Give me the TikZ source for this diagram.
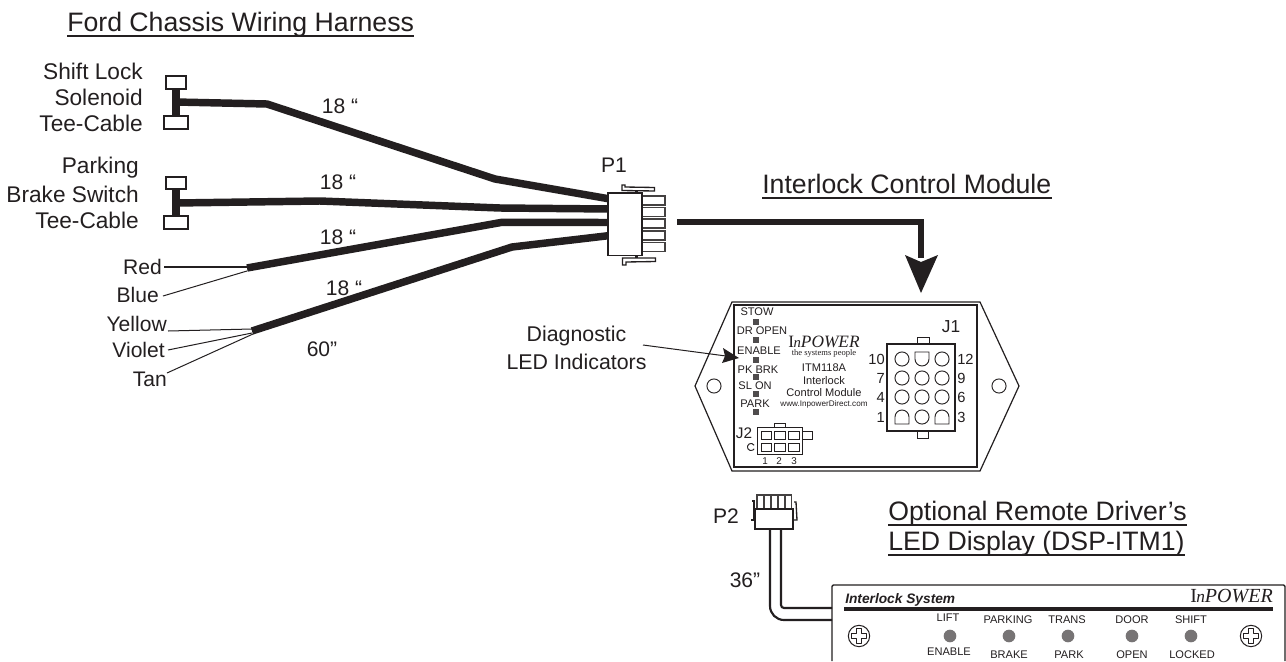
\documentclass[tikz,border=0pt]{standalone}
\usepackage{fontspec}
\setmainfont{Liberation Sans}
\newfontfamily\logofont{Liberation Serif}
\definecolor{ink}{HTML}{231F20}
\newcommand{\logotext}[2]{{\logofont\fontsize{#1}{#1}\selectfont I\kern-0.03em{\itshape\fontsize{#2}{#1}\selectfont n}{\itshape POWER}}}
\begin{document}
\begin{tikzpicture}[x=0.75pt,y=-0.75pt,line join=miter,
  lbl/.style={inner sep=0pt,text=ink,font=\fontsize{15.8}{18}\selectfont},
  big/.style={inner sep=0pt,text=ink,font=\fontsize{17}{19}\selectfont},
  ttl/.style={inner sep=0pt,text=ink,anchor=base west,font=\fontsize{20}{22}\selectfont},
  uline/.style={draw=ink,line width=1.1pt},
  mod/.style={inner sep=0pt,text=ink,font=\fontsize{8.3}{10}\selectfont},
  pan/.style={inner sep=0pt,text=ink,font=\fontsize{8.3}{10}\selectfont},
  num/.style={inner sep=0pt,text=ink,font=\fontsize{11}{13}\selectfont},
  cable/.style={draw=ink,line width=5.6pt,line join=round},
  wire/.style={draw=ink,line width=0.75pt},
  thin outline/.style={draw=ink,line width=0.9pt,fill=white},
  hair/.style={draw=ink,line width=0.7pt,fill=white},
  led/.style={fill=ink!80,draw=none,minimum size=3.8pt,inner sep=0pt},
  disc/.style={circle,fill=ink!62,draw=none,minimum size=9.5pt,inner sep=0pt},
  hole/.style={circle,draw=ink,line width=0.7pt,fill=white,minimum size=10.6pt,inner sep=0pt},
  screw/.style={circle,draw=ink,line width=0.75pt,fill=white,minimum size=16pt,inner sep=0pt}]
\useasboundingbox (0,0) rectangle (1286,661);
\fill[white] (0,0) rectangle (1286,661);

% titles
\node[ttl] (t1) at (67,31) {Ford Chassis Wiring Harness};
\node[ttl] (t2) at (762,193) {Interlock Control Module};
\node[ttl] (t3) at (888,520) {Optional Remote Driver’s};
\node[ttl] (t4) at (888,550) {LED Display (DSP-ITM1)};
\draw[uline] ([yshift=-3.6pt]t1.base west) -- ([yshift=-3.6pt]t1.base east);
\draw[uline] ([yshift=-3.6pt]t2.base west) -- ([yshift=-3.6pt]t2.base east);
\draw[uline] ([yshift=-3.6pt]t3.base west) -- ([yshift=-3.6pt]t3.base east);
\draw[uline] ([yshift=-3.6pt]t4.base west) -- ([yshift=-3.6pt]t4.base east);

% left labels
\node[big,anchor=east] (a1) at (143,71) {Shift Lock};
\node[big,anchor=east] (a2) at (143,97) {Solenoid};
\node[big,anchor=east] (a3) at (143,123) {Tee-Cable};
\node[big,anchor=east] (b1) at (139,168) {Parking};
\node[big,anchor=east] (b2) at (139,194) {Brake Switch};
\node[big,anchor=east] (b3) at (139,220) {Tee-Cable};
\node[lbl,anchor=east] (red) at (162,267) {Red};
\node[lbl,anchor=east] (blue) at (159,295) {Blue};
\node[lbl,anchor=east] (yellow) at (167,324) {Yellow};
\node[lbl,anchor=east] (violet) at (165,350) {Violet};
\node[lbl,anchor=east] (tan) at (167,379) {Tan};

\node[lbl] (l1) at (340,106) {18 “};
\node[lbl] (l2) at (338,182) {18 “};
\node[lbl] (l3) at (338,237) {18 “};
\node[lbl] (l4) at (344,288) {18 “};
\node[lbl] (l5) at (322,349) {60”};
\node[lbl] (p1) at (614,165) {P1};

% coordinates of cable ends
\coordinate (c1a) at (176,102);
\coordinate (c2a) at (176,203);
\coordinate (c3a) at (247,268);
\coordinate (c4a) at (252,331);
\coordinate (c1b) at (610,199);
\coordinate (c2b) at (610,209);
\coordinate (c3b) at (610,222.5);
\coordinate (c4b) at (610,235.5);

% cables
\draw[cable] (c1a) -- (267,104) -- (495,179) -- (c1b);
\draw[cable] (c2a) -- (320,201) -- (500,208) -- (c2b);
\draw[cable] (c3a) -- (502,222.3) -- (c3b);
\draw[cable] (c4a) -- (512,247) -- (c4b);

% tees
\draw[ink,line width=5.4pt] (176,88) -- (176,117);
\draw[ink,line width=5.4pt] (176,188) -- (176,217);
\draw[thin outline] (166,76) rectangle (186,89);
\draw[thin outline] (164,116) rectangle (188,129);
\draw[thin outline] (166,177) rectangle (186,189);
\draw[thin outline] (164,216) rectangle (188,229);

% loose wires
\coordinate (w1a) at (164,267); \coordinate (w1b) at (247,267);
\coordinate (w2a) at (163,296); \coordinate (w2b) at (247,271);
\coordinate (w3a) at (168,331); \coordinate (w3b) at (252,329);
\coordinate (w4a) at (168,350); \coordinate (w4b) at (252,333);
\coordinate (w5a) at (167,373); \coordinate (w5b) at (253,334);
\draw[wire,line width=1pt] (w1a) -- (w1b);
\draw[wire] (w2a) -- (w2b);
\draw[wire] (w3a) -- (w3b);
\draw[wire] (w4a) -- (w4b);
\draw[wire] (w5a) -- (w5b);

% P1
\draw[hair,line width=1pt] (622,190.5) -- (622,185) -- (625,185) -- (625,187) -- (654.5,187.5) -- (654.5,191) -- cycle;
\draw[ink,line width=1.6pt] (636.5,190) -- (636.5,193);
\draw[ink,line width=1.6pt] (636.5,255) -- (636.5,258);
\draw[hair,line width=1pt] (622.5,258) -- (655.5,258) -- (655.5,261.5) -- (626,262) -- (626,265) -- (622.5,265) -- cycle;
\foreach \y/\h in {196/205,207.5/216.5,219/228,231/240,242.5/251.5}
  \draw[draw=ink!85,line width=1.2pt,fill=white] (642,\y) rectangle (665,\h);
\draw[draw=ink,line width=1.3pt,fill=white] (608,193) rectangle (642,255.5);

% main arrow
\coordinate (arrowtip) at (921,293);
\draw[ink,line width=4.4pt] (677,222) -- (921,222) -- (921,258);
\fill[ink] (arrowtip) -- (905,255) -- (921,262) -- (938,255) -- cycle;

% module
\draw[draw=ink,line width=0.9pt,fill=white] (732,302) -- (980,302) -- (1019,386) -- (980,471) -- (732,471) -- (695,386) -- cycle;
\draw[draw=ink,line width=0.9pt] (734,305) rectangle (977,467);
\node[hole] (h1) at (714,386) {};
\node[hole] (h2) at (999,386) {};

\node[mod] (m1) at (757,312) {STOW};
\node[mod] (m2) at (762,331) {DR OPEN};
\node[mod] (m3) at (759,351) {ENABLE};
\node[mod] (m4) at (758,370) {PK BRK};
\node[mod] (m5) at (755,386) {SL ON};
\node[mod] (m6) at (755,404) {PARK};
\foreach \y [count=\i] in {322,340,360,377,394,412}
  \node[led] (led\i) at (756,\y) {};

\node[inner sep=0pt,text=ink] (logo1) at (824,342) {\logotext{13}{11}};
\node[inner sep=0pt,text=ink,font=\logofont\fontsize{6.4}{8}\selectfont] (tag) at (824,353.5) {the systems people};
\node[mod] (m7) at (824,368) {ITM118A};
\node[mod] (m8) at (824,381) {Interlock};
\node[mod] (m9) at (824,393) {Control Module};
\node[mod,font=\fontsize{6.1}{7}\selectfont] (m10) at (824,404) {www.InpowerDirect.com};

% J1
\draw[hair] (917,337) rectangle (929,344);
\draw[hair] (917,431) rectangle (928,438);
\draw[draw=ink,line width=1pt,fill=white] (887,344) rectangle (955,431);
\foreach \x/\y/\n in {902/359/a,942/359/b,902/378/c,922/378/d,942/378/e,902/397/f,922/397/g,942/397/h,922/417/i}
  \node[hole] (j\n) at (\x,\y) {};
\draw[hair] (915,352) -- (929,352) -- (929,359) arc[start angle=0,end angle=180,radius=7] -- cycle;
\draw[hair] (895,424) -- (909,424) -- (909,417) arc[start angle=0,end angle=-180,radius=7] -- cycle;
\draw[hair] (935,424) -- (949,424) -- (949,417) arc[start angle=0,end angle=-180,radius=7] -- cycle;
\node[num,anchor=east] (n10) at (885,359) {10};
\node[num,anchor=east] (n7) at (885,378) {7};
\node[num,anchor=east] (n4) at (885,397) {4};
\node[num,anchor=east] (n1) at (885,417) {1};
\node[num,anchor=west] (n12) at (957,359) {12};
\node[num,anchor=west] (n9) at (957,378) {9};
\node[num,anchor=west] (n6) at (957,397) {6};
\node[num,anchor=west] (n3) at (957,417) {3};
\node[num,font=\fontsize{13}{15}\selectfont] (j1lab) at (951,327) {J1};

% J2
\node[num,font=\fontsize{11.5}{13}\selectfont] (j2lab) at (744,433) {J2};
\draw[hair] (774,423) rectangle (785,427);
\draw[hair] (802,431) rectangle (812,439);
\draw[hair] (754.1,445.2) arc[start angle=-30,end angle=-330,radius=3.6];
\draw[hair] (757,427) rectangle (802,454);
\foreach \x/\xx in {761/771,774/785,788/799}{
  \draw[hair] (\x,431) rectangle (\xx,439);
  \draw[hair] (\x,443) rectangle (\xx,451);
}
\node[mod,font=\fontsize{7.4}{9}\selectfont] (j2a) at (765,461) {1};
\node[mod,font=\fontsize{7.4}{9}\selectfont] (j2b) at (779,461) {2};
\node[mod,font=\fontsize{7.4}{9}\selectfont] (j2c) at (794,461) {3};

% diagnostic
\node[lbl,font=\fontsize{16}{18}\selectfont] (d1) at (576.5,336) {Diagnostic};
\node[lbl,font=\fontsize{16}{18}\selectfont] (d2) at (576.5,362) {LED Indicators};
\coordinate (dtip) at (739,358);
\coordinate (dstart) at (643,345);
\draw[wire] (dstart) -- (726,356);
\fill[ink] (dtip) -- (723,348) -- (725,356) -- (722,363) -- cycle;

% P2
\node[lbl] (p2) at (726,516) {P2};
\node[lbl] (l36) at (745,580) {36”};
\foreach \x in {757,764,771,778,785}
  \draw[draw=ink!85,line width=0.9pt,fill=white] (\x,495) rectangle (\x+6.5,509);
\draw[hair,line width=1pt] (752,501) -- (754,501) -- (754,520) -- (750.5,520);
\draw[hair,line width=1pt] (794,502) -- (796,502) -- (797,520) -- (794,520);
\draw[draw=ink,line width=1pt,fill=white] (755,509) rectangle (793,529);
\draw[ink,line width=1.6pt] (770,529) -- (770,606) arc[start angle=180,end angle=90,radius=14] -- (832,620);
\draw[ink,line width=1.6pt] (781,529) -- (781,605) arc[start angle=180,end angle=90,radius=3] -- (832,608);

% panel
\draw[draw=ink,line width=1pt,rounded corners=1pt] (832,661) -- (832,585) -- (1285,585) -- (1285,661);
\node[anchor=west,inner sep=0pt,text=ink,font=\bfseries\itshape\fontsize{10.3}{12}\selectfont] (sys) at (845,600) {Interlock System};
\node[anchor=east,inner sep=0pt,text=ink] (logo2) at (1273,596) {\logotext{15}{13}};
\draw[ink,line width=3pt] (844,609) -- (1273,609);
\foreach \x/\n in {859/a,1251/b}{
  \node[screw] (s\n) at (\x,636) {};
  \draw[ink,line width=0.7pt,line join=round] (\x-2.5,636-7.5) -- (\x+2.5,636-7.5) -- (\x+2.5,636-2.5) -- (\x+7.5,636-2.5) -- (\x+7.5,636+2.5) -- (\x+2.5,636+2.5) -- (\x+2.5,636+7.5) -- (\x-2.5,636+7.5) -- (\x-2.5,636+2.5) -- (\x-7.5,636+2.5) -- (\x-7.5,636-2.5) -- (\x-2.5,636-2.5) -- cycle;
}
\foreach \x/\n in {950/a,1009/b,1068/c,1132/d,1191/e}
  \node[disc] (ld\n) at (\x,636) {};
\node[pan] (u1) at (948,618) {LIFT};
\node[pan] (u2) at (1008,620) {PARKING};
\node[pan] (u3) at (1067,620) {TRANS};
\node[pan] (u4) at (1132,620) {DOOR};
\node[pan] (u5) at (1191,620) {SHIFT};
\node[pan] (v1) at (949,652) {ENABLE};
\node[pan] (v2) at (1009,655) {BRAKE};
\node[pan] (v3) at (1069,655) {PARK};
\node[pan] (v4) at (1132,655) {OPEN};
\node[pan] (v5) at (1192,655) {LOCKED};
\end{tikzpicture}
\end{document}
